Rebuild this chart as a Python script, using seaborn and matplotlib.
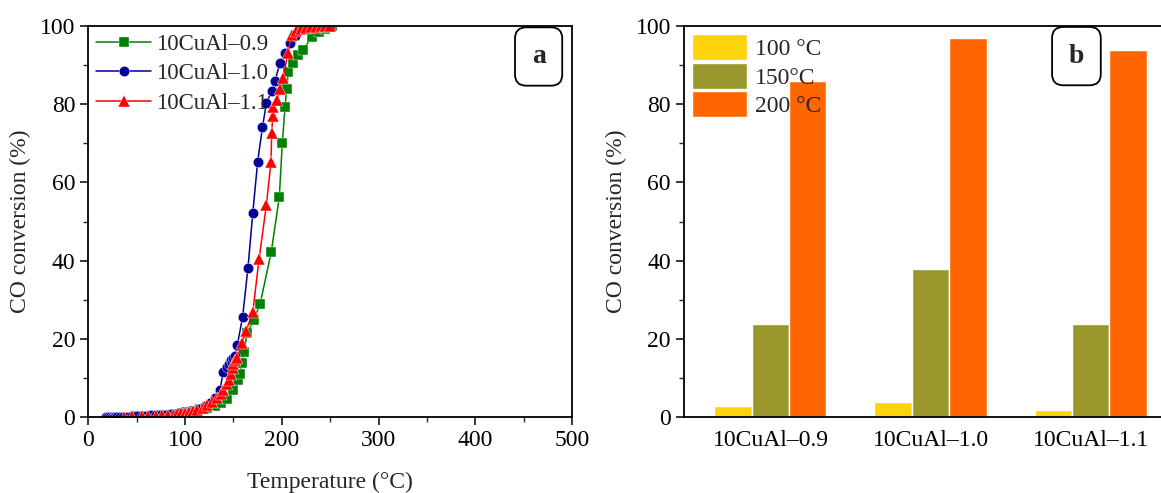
import numpy as np
import pandas as pd
import matplotlib
matplotlib.use("Agg")
import matplotlib.pyplot as plt
from matplotlib.ticker import MultipleLocator
import seaborn as sns

# ---------------- data ----------------
samples = ["10CuAl–0.9", "10CuAl–1.0", "10CuAl–1.1"]

t_09 = [50, 58, 66, 74, 80, 86, 92, 97, 102, 108, 115, 123, 131, 137, 143, 150, 155, 157,
        158.5, 161, 164, 171, 177.5, 189, 197.4, 200.5, 203.3, 205, 206.7, 212, 217, 222.3,
        230.9, 238, 245, 252]
c_09 = [0.2, 0.3, 0.3, 0.4, 0.5, 0.6, 0.8, 1.0, 1.2, 1.5, 2.0, 2.4, 2.8, 3.6, 4.6, 7.0, 9.5, 11,
        13.7, 16.7, 21.4, 24.8, 28.9, 42.1, 56.3, 70.2, 79.2, 84, 88.3, 90.5, 92.6, 93.9,
        97.3, 98.5, 99.3, 100]

t_10 = [18, 20, 22, 24, 26, 28, 30, 33, 36, 40, 45, 50, 55, 60, 65, 70, 75, 80, 85, 90, 95,
        100, 105, 110, 115, 121, 126, 131, 136, 139.5, 143, 145, 147, 148, 150, 152, 154,
        159.5, 165, 170, 175, 180, 184, 189.5, 193, 198, 203, 208.5, 214, 219, 225, 232, 240, 250]
c_10 = [0, 0, 0, 0, 0, 0, 0, 0.1, 0.1, 0.1, 0.2, 0.2, 0.3, 0.3, 0.4, 0.4, 0.5, 0.6, 0.7, 0.8, 1.0,
        1.1, 1.3, 1.6, 2.0, 2.8, 3.5, 4.9, 6.9, 11.6, 12.8, 13.5, 14.5, 13.8, 15, 15.5, 18.4,
        25.7, 38.2, 52.3, 65.3, 74.2, 80.2, 83.5, 86, 90.5, 93, 95.6, 97.5, 99.4, 99.6, 99.8, 99.9, 100]

t_11 = [37, 45, 55, 62, 70, 76, 82, 88, 92, 96, 100, 104, 108, 112, 118, 123, 128, 133, 137,
        139.5, 143, 145, 147, 149, 150, 152, 154, 158.5, 163, 170, 176.4, 184, 188.8, 189.5,
        190.6, 191.2, 194.7, 198, 201.6, 206, 210.2, 215, 220, 225, 230, 235, 240, 245, 250]
c_11 = [0.1, 0.2, 0.2, 0.3, 0.3, 0.4, 0.5, 0.6, 0.8, 0.9, 1.0, 1.2, 1.5, 1.8, 2.4, 3.1, 3.8, 4.8,
        5.8, 6.9, 8.5, 9.5, 11, 12.5, 13.5, 14.5, 15, 18.8, 22, 26.9, 40.3, 54.2, 65.3, 72.6,
        77, 79.4, 81, 84, 86.6, 93, 97.7, 98.8, 99.2, 99.5, 99.7, 99.8, 99.9, 100, 100]

temps = ["100 °C", "150°C", "200 °C"]
bar_100 = [2.8, 3.8, 1.8]
bar_150 = [23.8, 37.9, 23.8]
bar_200 = [86.0, 96.9, 93.9]

# ---------------- style ----------------
sns.set_style("ticks")
plt.rcParams["font.family"] = ["Liberation Serif", "DejaVu Serif"]
FS = 17

fig = plt.figure(figsize=(11.61, 4.93), dpi=100)
W, H = 1161, 493
ax1 = fig.add_axes([88.4 / W, 76 / H, (572 - 88.4) / W, 391 / H])
ax2 = fig.add_axes([684 / W, 76 / H, (1177 - 684) / W, 391 / H])

# ---------------- panel a ----------------
df_a = pd.concat([
    pd.DataFrame({"T": t_09, "C": c_09, "sample": samples[0]}),
    pd.DataFrame({"T": t_10, "C": c_10, "sample": samples[1]}),
    pd.DataFrame({"T": t_11, "C": c_11, "sample": samples[2]}),
], ignore_index=True)

line_colors = {samples[0]: "#008000", samples[1]: "#000099", samples[2]: "#ff0000"}
markers = {samples[0]: "s", samples[1]: "o", samples[2]: "^"}
sizes_m = {samples[0]: 6.5, samples[1]: 7.5, samples[2]: 8.5}

sns.lineplot(data=df_a, x="T", y="C", hue="sample", style="sample", hue_order=samples,
             style_order=samples, palette=line_colors, markers=markers, dashes=False,
             estimator=None, sort=False, ax=ax1, linewidth=1.1, markersize=7,
             markeredgewidth=0.3, legend=True)
for ln, s in zip(ax1.get_lines(), samples):
    ln.set_markersize(sizes_m[s])

leg = ax1.get_legend()
handles = leg.legend_handles
labels = [t.get_text() for t in leg.texts]
for h, s in zip(handles, samples):
    h.set_markersize(sizes_m[s])
    h.set_linewidth(1.1)
ax1.legend(handles, labels, loc="upper left", frameon=False, fontsize=16.5,
           handlelength=2.4, handletextpad=0.2, labelspacing=0.36,
           borderaxespad=0.1, borderpad=0.25)

ax1.set_xlim(0, 500)
ax1.set_ylim(0, 100)
ax1.xaxis.set_major_locator(MultipleLocator(100))
ax1.xaxis.set_minor_locator(MultipleLocator(50))
ax1.yaxis.set_major_locator(MultipleLocator(20))
ax1.yaxis.set_minor_locator(MultipleLocator(10))
ax1.set_xlabel("Temperature (°C)", fontsize=FS, labelpad=15)
ax1.set_ylabel("CO conversion (%)", fontsize=FS, labelpad=6)

ax1.text(0.931, 0.922, "a", transform=ax1.transAxes, fontsize=20, fontweight="bold",
         ha="center", va="center",
         bbox=dict(boxstyle="round,pad=0.6,rounding_size=0.4", fc="white", ec="black", lw=1.3))

# ---------------- panel b ----------------
df_b = pd.DataFrame({
    "sample": samples * 3,
    "temp": [temps[0]] * 3 + [temps[1]] * 3 + [temps[2]] * 3,
    "conv": bar_100 + bar_150 + bar_200,
})
bar_colors = ["#ffd30a", "#99962c", "#ff6600"]
sns.barplot(data=df_b, x="sample", y="conv", hue="temp", order=samples, hue_order=temps,
            palette=bar_colors, saturation=1, width=0.7, edgecolor="white", linewidth=1.0,
            ax=ax2, legend=True)

ax2.set_xlim(-0.54, 2.54)
ax2.set_ylim(0, 100)
ax2.yaxis.set_major_locator(MultipleLocator(20))
ax2.yaxis.set_minor_locator(MultipleLocator(10))
ax2.set_xlabel("")
ax2.set_ylabel("CO conversion (%)", fontsize=FS, labelpad=6)
ax2.legend(loc="upper left", frameon=False, fontsize=FS, handlelength=2.3,
           handleheight=1.3, handletextpad=0.35, labelspacing=0.12, borderaxespad=0.1,
           borderpad=0.25)
ax2.text(0.796, 0.923, "b", transform=ax2.transAxes, fontsize=20, fontweight="bold",
         ha="center", va="center",
         bbox=dict(boxstyle="round,pad=0.6,rounding_size=0.4", fc="white", ec="black", lw=1.3))

for ax in (ax1, ax2):
    for sp in ax.spines.values():
        sp.set_visible(True)
        sp.set_linewidth(1.3)
        sp.set_color("black")
    ax.tick_params(axis="both", which="major", direction="out", length=6, width=1.1,
                   labelsize=FS, colors="black", top=False, right=False)
    ax.tick_params(axis="both", which="minor", direction="out", length=3.5, width=1.0,
                   top=False, right=False)
    ax.grid(False)
ax2.tick_params(axis="x", which="both", length=0, pad=9)

fig.savefig("out.png", dpi=100)
